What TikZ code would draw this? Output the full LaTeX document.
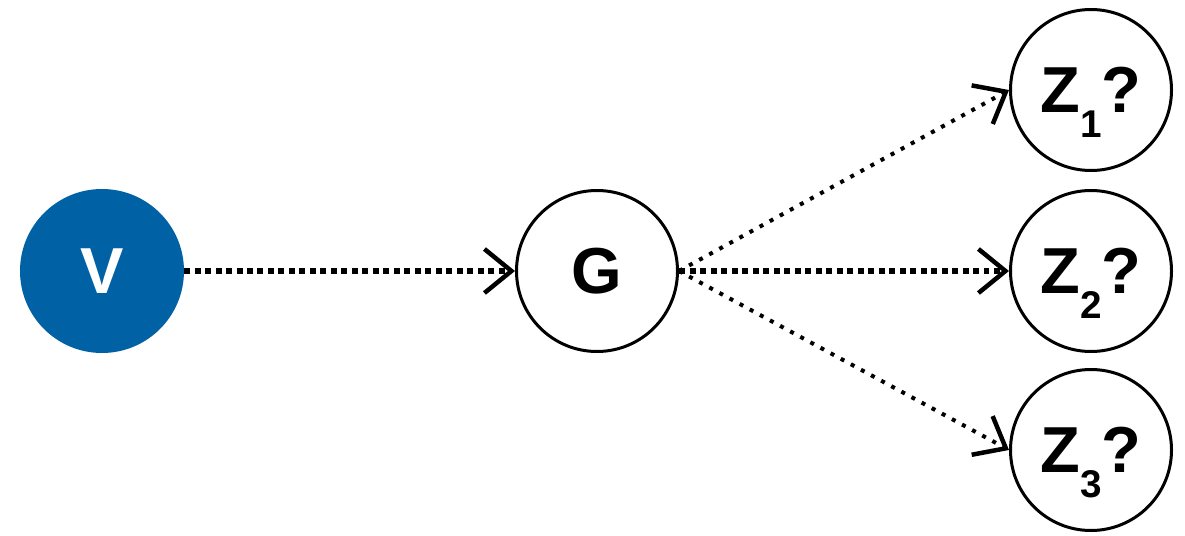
\documentclass[tikz,border=0pt]{standalone}
\usepackage{fontspec}
\setmainfont{Liberation Sans}
\usetikzlibrary{arrows.meta}
\definecolor{vblue}{RGB}{0,98,164}

\newcommand{\zsub}[1]{Z\raisebox{-0.5cm}[0pt][0pt]{\fontsize{22}{22}\selectfont #1}?}

\begin{document}
\begin{tikzpicture}[
        var/.style={circle,draw,line width=0.06cm,minimum size=3.22cm,inner sep=0pt,
            font=\fontsize{37}{37}\selectfont\bfseries},
        heavy/.style={line width=0.13cm,dash pattern=on 0.12cm off 0.09cm,
            -{Straight Barb[length=0.54cm,width=0.88cm,line width=0.09cm]}},
        light/.style={line width=0.08cm,dash pattern=on 0.08cm off 0.15cm,
            -{Straight Barb[length=0.54cm,width=0.88cm,line width=0.09cm]}}]
        \useasboundingbox (0,0) rectangle (23.7,10.7);
        % nodes
        \node[var,fill=vblue,draw=vblue,text=white] (v) at (2.04,5.28) {V};
        \node[var] (g) at (11.94,5.28) {G};
        \node[var] (z1) at (21.82,8.9) {\zsub{1}};
        \node[var] (z2) at (21.82,5.28) {\zsub{2}};
        \node[var] (z3) at (21.82,1.7) {\zsub{3}};
        % arrows
        \draw[heavy] (v) -- (g);
        \draw[heavy] (g) -- (z2);
        \draw[light] (g.east) -- (z1.west);
        \draw[light] (g.east) -- (z3.west);
\end{tikzpicture}
\end{document}
